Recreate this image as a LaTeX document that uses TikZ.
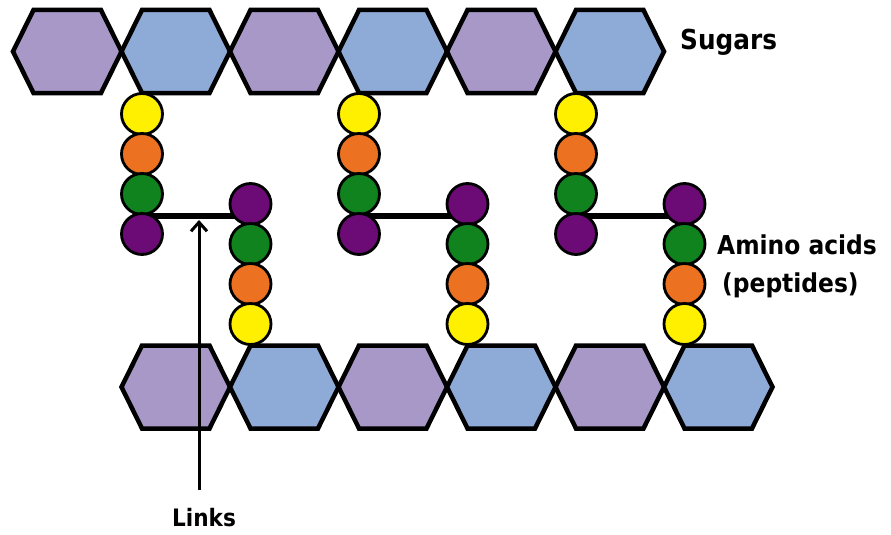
\documentclass[tikz,border=0pt]{standalone}
\usepackage{fontspec}
\setmainfont{DejaVu Sans Condensed}
\usetikzlibrary{arrows.meta}

\definecolor{sugarpurple}{RGB}{168,152,200}
\definecolor{sugarblue}{RGB}{142,170,214}
\definecolor{aayellow}{RGB}{255,240,0}
\definecolor{aaorange}{RGB}{236,114,34}
\definecolor{aagreen}{RGB}{16,130,30}
\definecolor{aapurple}{RGB}{108,10,118}

\tikzset{
  sugar/.style={draw=black, line width=4.5pt, line join=miter},
  amino/.style={circle, draw=black, line width=2.8pt, minimum size=41pt, inner sep=0pt},
  crosslink/.style={line width=6.5pt},
  pointer/.style={line width=3pt, -{Straight Barb[length=9pt,width=16pt,line width=3pt]}},
  label/.style={font=\bfseries\fontsize{26}{31}\selectfont, inner sep=0pt}
}

% hexagonal sugar unit: #1 = left tip x, #2 = centre y, #3 = fill
\newcommand{\sugarunit}[3]{%
  \fill[#3] (#1,#2) -- ++(20.5,-41.5) -- ++(67.5,0) -- ++(20.5,41.5)
    -- ++(-20.5,41.5) -- ++(-67.5,0) -- cycle;
  \draw[sugar] (#1,#2) -- ++(20.5,-41.5) -- ++(67.5,0) -- ++(20.5,41.5)
    -- ++(-20.5,41.5) -- ++(-67.5,0) -- cycle;
}

\begin{document}
\begin{tikzpicture}[x=1pt,y=-1pt]
\useasboundingbox (0,0) rectangle (891,535);

% glycan strands
\foreach \i in {0,...,5}{
  \pgfmathsetmacro{\xt}{13+108.5*\i}
  \pgfmathsetmacro{\xb}{121.5+108.5*\i}
  \ifodd\i
    \sugarunit{\xt}{51.5}{sugarblue}
    \sugarunit{\xb}{387}{sugarblue}
  \else
    \sugarunit{\xt}{51.5}{sugarpurple}
    \sugarunit{\xb}{387}{sugarpurple}
  \fi
}

% cross-links between the peptide chains (behind the residues)
\foreach \n/\xa/\xb in {1/142/250.5, 2/359/467.5, 3/576/684.5}{
  \coordinate (la\n) at (\xa,216);
  \coordinate (lb\n) at (\xb,216);
  \draw[crosslink] (la\n) -- (lb\n);
}

% peptide chains hanging from the upper strand
\foreach \n/\x in {1/142, 2/359, 3/576}{
  \node[amino, fill=aayellow] (ty\n) at (\x,114) {};
  \node[amino, fill=aaorange] (to\n) at (\x,154) {};
  \node[amino, fill=aagreen]  (tg\n) at (\x,194) {};
  \node[amino, fill=aapurple] (tp\n) at (\x,234) {};
}

% peptide chains rising from the lower strand
\foreach \n/\x in {1/250.5, 2/467.5, 3/684.5}{
  \node[amino, fill=aapurple] (bp\n) at (\x,204) {};
  \node[amino, fill=aagreen]  (bg\n) at (\x,244) {};
  \node[amino, fill=aaorange] (bo\n) at (\x,284) {};
  \node[amino, fill=aayellow] (by\n) at (\x,324) {};
}

% labels
\node[label, font=\bfseries\fontsize{27.5}{33}\selectfont, anchor=base west] (sugars) at (680,49) {Sugars};
\node[label, anchor=base west] (amino) at (717,254) {Amino acids};
\node[label, anchor=base west] (pept) at (722,292) {(peptides)};
\node[label, font=\bfseries\fontsize{24}{29}\selectfont, anchor=base] (links) at (204,526) {Links};

% pointer to the first cross-link
\coordinate (ptail) at (199,490);
\coordinate (phead) at (199,220);
\draw[pointer] (ptail) -- (phead);
\end{tikzpicture}
\end{document}
